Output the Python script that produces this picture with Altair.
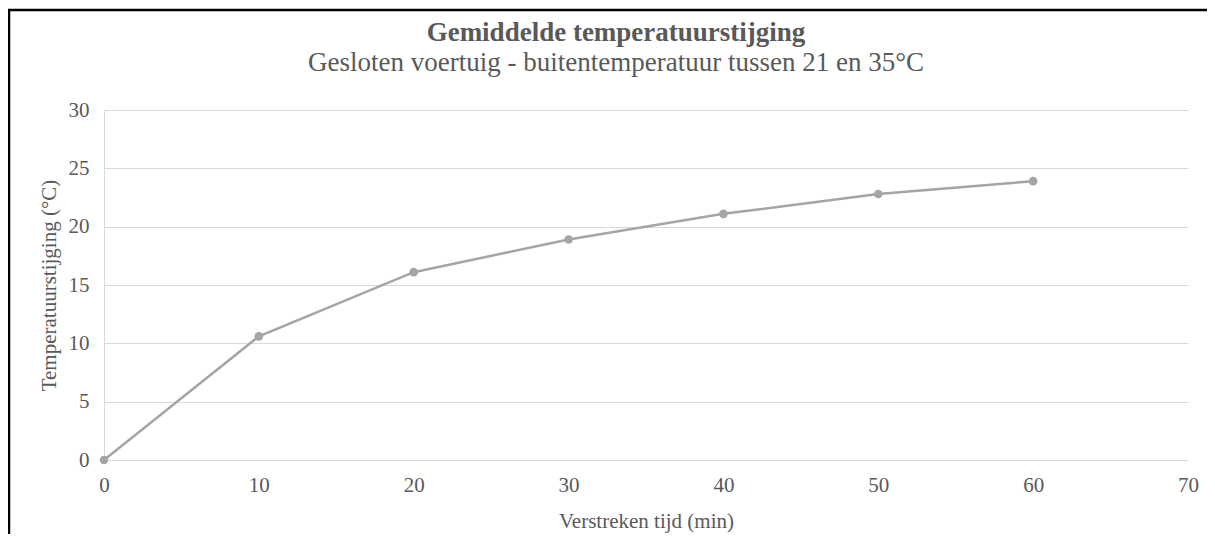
import altair as alt
import pandas as pd

minutes = [0, 10, 20, 30, 40, 50, 60]
temp_rise = [0.0, 10.6, 16.1, 18.9, 21.1, 22.8, 23.9]

df = pd.DataFrame({"t": minutes, "v": temp_rise})

FONT = "Liberation Serif"
GRAY = "#595959"
LINE = "#a5a5a5"
GRID = "#d9d9d9"

x = alt.X("t:Q", scale=alt.Scale(domain=[0, 70], nice=False),
          axis=alt.Axis(values=[0, 10, 20, 30, 40, 50, 60, 70], title="Verstreken tijd (min)",
                        grid=False, ticks=False, domain=False, labelPadding=14,
                        labelFlush=False, titlePadding=15))
y = alt.Y("v:Q", scale=alt.Scale(domain=[0, 30], nice=False),
          axis=alt.Axis(values=[0, 5, 10, 15, 20, 25, 30], title="Temperatuurstijging (°C)",
                        grid=True, ticks=False, domain=True, domainColor=GRID,
                        labelFlush=False, labelPadding=15, titlePadding=9))

line = alt.Chart(df).mark_line(color=LINE, strokeWidth=2.5).encode(x=x, y=y)
pts = alt.Chart(df).mark_point(filled=True, color=LINE, size=75, opacity=1).encode(x=x, y=y)

frame_data = alt.Data(values=[{}])
top_rule = alt.Chart(frame_data).mark_rule(color="black", strokeWidth=2.5).encode(
    x=alt.value(-96), x2=alt.value(1110), y=alt.value(-100))
left_rule = alt.Chart(frame_data).mark_rule(color="black", strokeWidth=2.5).encode(
    x=alt.value(-95), y=alt.value(-101), y2=alt.value(440))

chart = alt.layer(line, pts, top_rule, left_rule).properties(
    width=1084, height=350,
    autosize=alt.AutoSizeParams(type="none"),
    padding={"left": 96, "top": 102, "right": 19, "bottom": 74},
    title=alt.TitleParams(
        text="Gemiddelde temperatuurstijging",
        subtitle="Gesloten voertuig - buitentemperatuur tussen 21 en 35°C",
        anchor="middle", dx=-30, offset=-69,
        font=FONT, fontSize=27, fontWeight="bold", color=GRAY,
        subtitleFont=FONT, subtitleFontSize=27, subtitleColor=GRAY, subtitlePadding=3,
    ),
).configure_axis(
    labelFont=FONT, labelFontSize=21, labelColor=GRAY,
    titleFont=FONT, titleFontSize=21, titleColor=GRAY, titleFontWeight="normal",
    gridColor=GRID, gridWidth=1.2,
).configure_view(stroke=None)

chart.save("out.html", embed_options={"renderer": "svg", "actions": False})
